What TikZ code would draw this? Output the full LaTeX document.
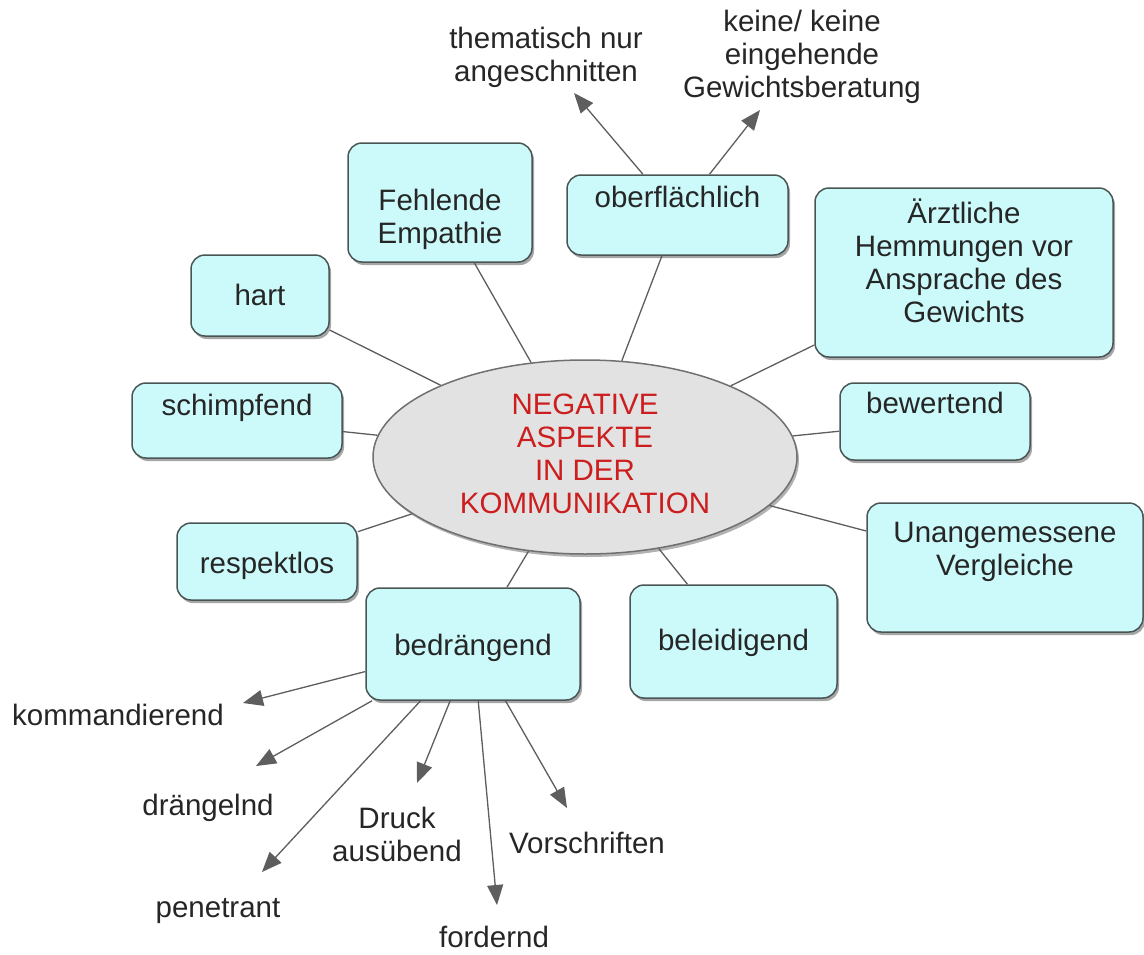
\documentclass[tikz,border=0pt]{standalone}
\usepackage{fontspec}
\setmainfont{Liberation Sans}
\usetikzlibrary{positioning, arrows.meta, shapes.geometric, shadows}

\definecolor{boxfill}{HTML}{CCFAFA}
\definecolor{boxline}{HTML}{4A5656}
\definecolor{hubfill}{HTML}{E2E2E2}
\definecolor{hubline}{HTML}{707070}
\definecolor{hubred}{HTML}{CC1E1E}
\definecolor{linkgray}{HTML}{5E5E5E}

\begin{document}
\begin{tikzpicture}[
    x=1pt, y=-1pt,
    font=\fontsize{29.5}{33}\selectfont,
    % Styles
    aspect/.style={draw=boxline, fill=boxfill, line width=1.5pt, rounded corners=14pt, align=center, inner sep=0pt, text=black!85,
        drop shadow={shadow xshift=2pt, shadow yshift=-3pt, opacity=0.35, fill=black}},
    hub/.style={ellipse, draw=hubline, fill=hubfill, line width=1.5pt, text=hubred, align=center, inner sep=0pt,
        minimum width=424pt, minimum height=194pt, drop shadow={shadow xshift=2pt, shadow yshift=-3pt, opacity=0.3, fill=black}},
    link/.style={draw=linkgray, line width=1.3pt},
    sub-arrow/.style={-{Triangle[length=20pt, width=16pt]}, draw=linkgray, fill=linkgray, line width=1.3pt},
    sublabel/.style={align=center, anchor=base, inner sep=0pt, text=black!85},
]
\useasboundingbox (0, 0) rectangle (1144, 954);

% Central node
\node[hub, text height=112pt, text depth=0pt] (neg) at (585, 457) {NEGATIVE\\ASPEKTE\\IN DER\\KOMMUNIKATION};

% Aspects around the centre
\node[aspect, minimum width=184pt, minimum height=119pt, text height=81pt, text depth=0pt] (fehl) at (440, 202.5) {Fehlende\\Empathie};
\node[aspect, minimum width=221pt, minimum height=80pt, text height=0pt, text depth=16pt] (ober) at (677.5, 215) {oberflächlich};
\node[aspect, minimum width=298pt, minimum height=169pt, text height=99pt, text depth=0pt] (aerzt) at (964, 272.5) {Ärztliche\\Hemmungen vor\\Ansprache des\\Gewichts};
\node[aspect, minimum width=138pt, minimum height=81pt, text height=19pt, text depth=0pt] (hart) at (260, 295.5) {hart};
\node[aspect, minimum width=210pt, minimum height=75pt, text height=0pt, text depth=11pt] (schimpf) at (237, 420.5) {schimpfend};
\node[aspect, minimum width=190pt, minimum height=77pt, text height=0pt, text depth=17pt] (bewert) at (935, 421.5) {bewertend};
\node[aspect, minimum width=276pt, minimum height=129pt, text height=15pt, text depth=0pt] (unang) at (1005, 567.5) {Unangemessene\\Vergleiche};
\node[aspect, minimum width=180pt, minimum height=77pt, text height=23pt, text depth=0pt] (respekt) at (267, 561.5) {respektlos};
\node[aspect, minimum width=214pt, minimum height=112pt, text height=22pt, text depth=0pt] (bedr) at (473, 644) {bedrängend};
\node[aspect, minimum width=207pt, minimum height=113pt, text height=17pt, text depth=0pt] (beleid) at (733.5, 641.5) {beleidigend};

% Links to the centre
\foreach \n in {fehl, ober, aerzt, hart, schimpf, bewert, unang, respekt, bedr, beleid}
    \draw[link] (neg) -- (\n);

% Details of oberflaechlich
\node[sublabel] (them) at (546, 81) {thematisch nur\\angeschnitten};
\node[sublabel] (keine) at (802, 97) {keine/ keine\\eingehende\\Gewichtsberatung};
\coordinate (t-them) at (574, 93);
\coordinate (t-keine) at (760, 110);
\draw[sub-arrow] (ober) -- (t-them);
\draw[sub-arrow] (ober) -- (t-keine);

% Details of bedraengend
\node[sublabel] (komm) at (118, 725) {kommandierend};
\node[sublabel] (draeng) at (208, 815) {drängelnd};
\node[sublabel] (druck) at (397, 861) {Druck\\ausübend};
\node[sublabel] (vorschr) at (587, 853) {Vorschriften};
\node[sublabel] (penet) at (218, 917) {penetrant};
\node[sublabel] (ford) at (494, 947) {fordernd};
\coordinate (t-komm) at (243, 703);
\coordinate (t-draeng) at (256, 766);
\coordinate (t-penet) at (262, 872);
\coordinate (t-druck) at (417, 783);
\coordinate (t-ford) at (497, 905);
\coordinate (t-vorschr) at (567, 808);
\foreach \t in {komm, draeng, penet, druck, ford, vorschr}
    \draw[sub-arrow] (bedr) -- (t-\t);

\end{tikzpicture}
\end{document}
